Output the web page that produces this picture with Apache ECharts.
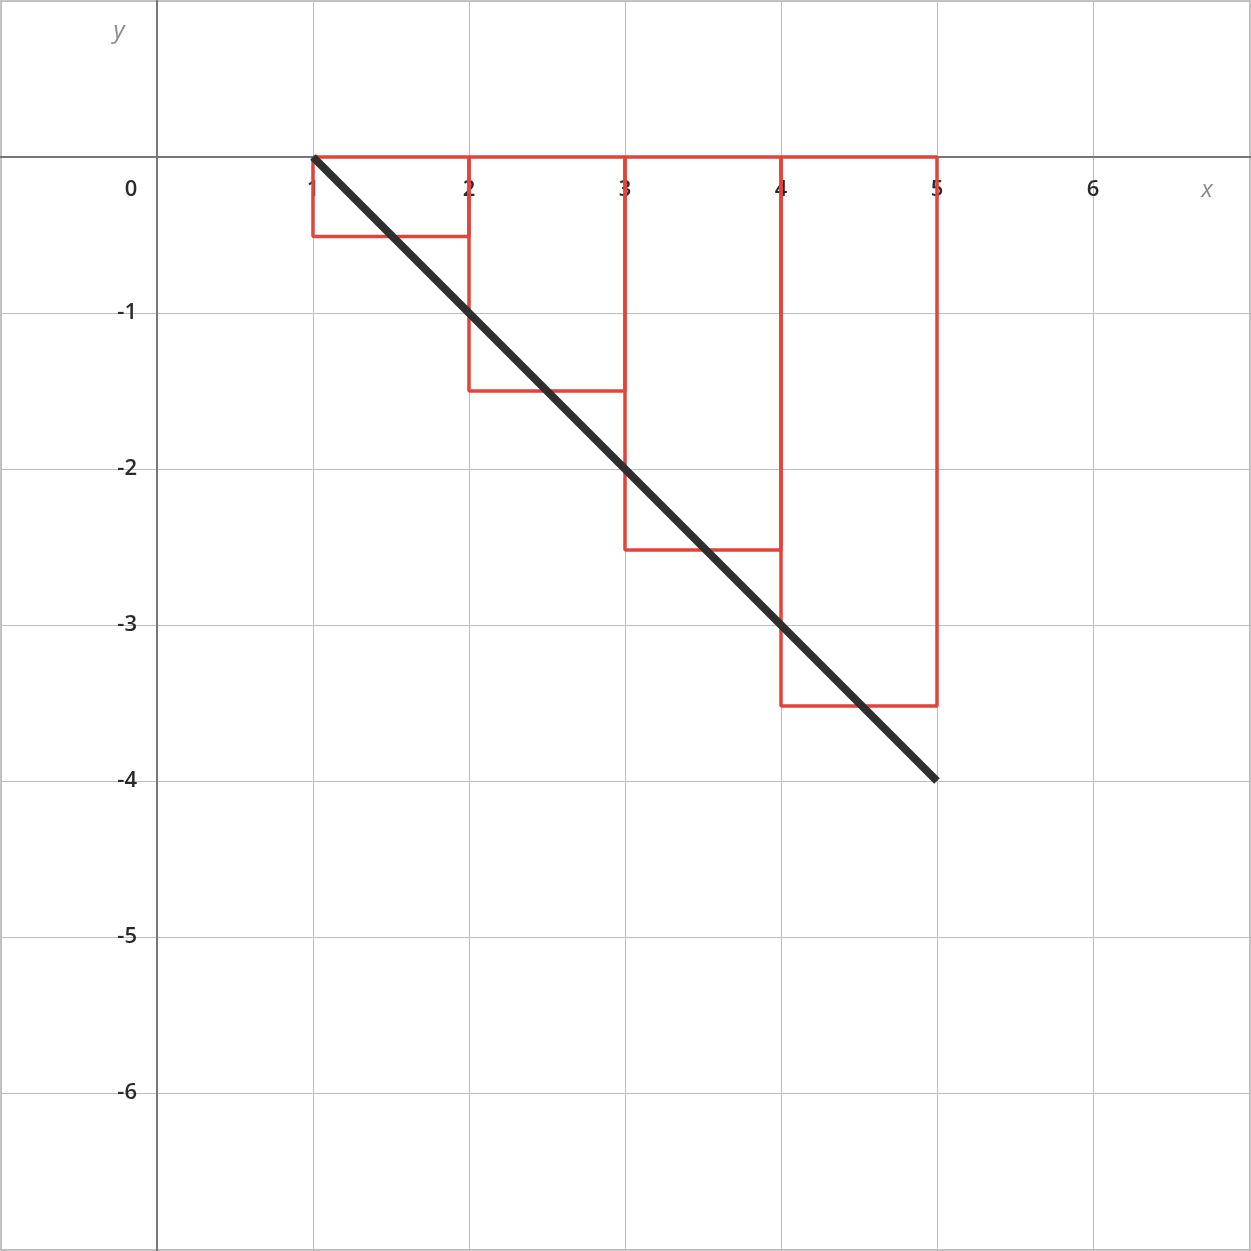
<!DOCTYPE html>
<html>
<head>
<meta charset="utf-8">
<script src="https://cdn.jsdelivr.net/npm/echarts@6/dist/echarts.min.js"></script>
<style>
  html, body { margin: 0; padding: 0; background: #fff; }
  #chart { width: 1251px; height: 1251px; }
</style>
</head>
<body>
<div id="chart"></div>
<script>
// rectangles: left edge, height (all width 1)
var rectLeft = [1, 2, 3, 4];
var rectHeight = [-0.51, -1.5, -2.52, -3.52];
var rectWidth = 1;
// the straight line
var lineX = [1, 5];
var lineY = [0, -4];
// tick labels shown
var xTicks = [0, 1, 2, 3, 4, 5, 6];
var yTicks = [-6, -5, -4, -3, -2, -1];

var myChart = echarts.init(document.getElementById('chart'));

var series = [];
rectLeft.forEach(function (x0, i) {
  var h = rectHeight[i];
  series.push({
    type: 'line',
    symbol: 'none',
    silent: true,
    data: [[x0, 0], [x0, h], [x0 + rectWidth, h], [x0 + rectWidth, 0], [x0, 0]],
    lineStyle: { color: '#e1443a', width: 3.5 },
    z: 3
  });
});
series.push({
  type: 'line',
  symbol: 'none',
  silent: true,
  data: lineX.map(function (x, i) { return [x, lineY[i]]; }),
  lineStyle: { color: '#2f2f2f', width: 8 },
  z: 4
});

var labelFont = { fontFamily: '"Open Sans"', fontSize: 22, fontWeight: 600, color: '#2a2a2a' };
var nameFont = { fontFamily: '"Open Sans"', fontSize: 24, fontStyle: 'italic', color: '#8a8a8a' };

var option = {
  animation: false,
  // 156 px per unit, origin at (157,157); axes run past the canvas so ticks stay on integers
  grid: { left: -155, right: -154, top: -155, bottom: -154, containLabel: false, outerBoundsMode: 'none' },
  graphic: [{
    type: 'rect',
    shape: { x: 0, y: 0, width: 1251, height: 1251 },
    style: { fill: 'none', stroke: '#c4c4c4', lineWidth: 2 },
    silent: true
  }],
  xAxis: {
    type: 'value',
    min: -2, max: 8, interval: 1,
    position: 'bottom',
    offset: -1248,
    axisLine: { onZero: false, lineStyle: { color: '#777', width: 2 } },
    axisTick: { show: false },
    splitLine: { lineStyle: { color: '#bdbdbd', width: 1 } },
    axisLabel: Object.assign({
      margin: 22,
      formatter: function (v) {
        if (xTicks.indexOf(v) < 0) return '';
        return v === 0 ? '{o|0}' : String(v);
      },
      rich: { o: Object.assign({ padding: [0, 52, 0, 0] }, labelFont) }
    }, labelFont),
    name: '{n|x}',
    nameLocation: 'end',
    nameGap: -198,
    nameTextStyle: Object.assign({
      align: 'center', verticalAlign: 'middle',
      rich: { n: Object.assign({ padding: [66, 0, 0, 0] }, nameFont) }
    }, nameFont)
  },
  yAxis: {
    type: 'value',
    min: -8, max: 2, interval: 1,
    position: 'left',
    offset: -312,
    axisLine: { onZero: false, lineStyle: { color: '#777', width: 2 } },
    axisTick: { show: false },
    splitLine: { lineStyle: { color: '#bdbdbd', width: 1 } },
    axisLabel: Object.assign({
      margin: 20,
      formatter: function (v) {
        return yTicks.indexOf(v) < 0 ? '' : String(v);
      }
    }, labelFont),
    name: 'y',
    nameLocation: 'end',
    nameGap: -186,
    nameTextStyle: Object.assign({
      align: 'center', verticalAlign: 'middle', padding: [0, 76, 0, 0]
    }, nameFont)
  },
  series: series
};
myChart.setOption(option);
</script>
</body>
</html>
